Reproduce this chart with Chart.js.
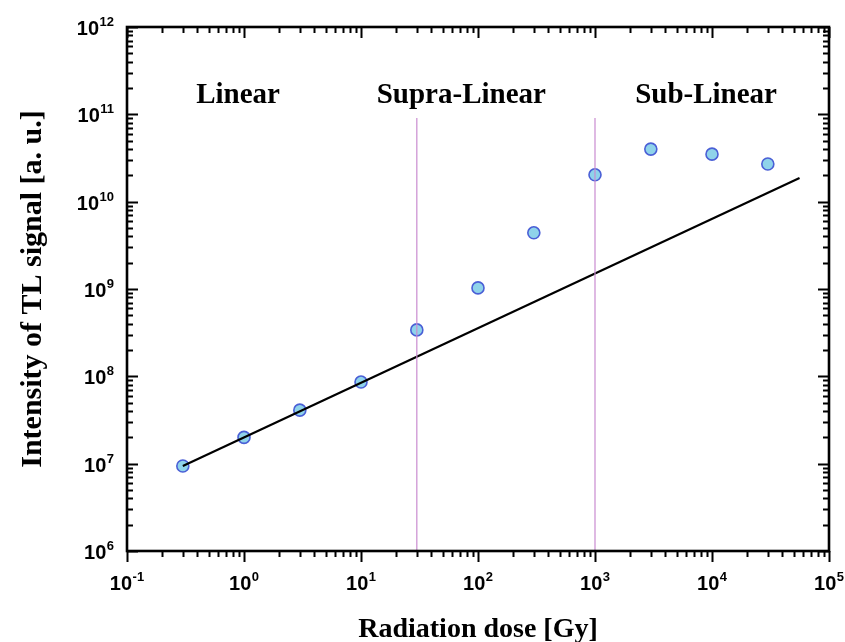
<!DOCTYPE html>
<html lang="en">
<head>
    <meta charset="UTF-8">
    <title>TL signal vs radiation dose</title>
    <script src="https://cdn.jsdelivr.net/npm/chart.js"></script>
    <style>
        html, body { margin: 0; padding: 0; background: #fff; }
        #wrap { width: 845px; height: 642px; }
    </style>
</head>
<body>
<div id="wrap"><canvas id="tlChart" width="845" height="642"></canvas></div>

<script>
    // Dados
    const doses = [0.3, 1, 3, 10, 30, 100, 300, 1000, 3000, 10000, 30000];
    const signal = [9.4e6, 2.0e7, 4.1e7, 8.6e7, 3.4e8, 1.03e9, 4.4e9, 2.03e10, 4.0e10, 3.5e10, 2.7e10];

    // Reta de referencia (resposta linear)
    const fitX = [0.3, 5.6e4];
    const fitY = [9.4e6, 1.87e10];

    // Limites das regioes
    const boundaries = [30, 1000];
    const boundaryBottom = 1e6;
    const boundaryTop = 9.1e10;

    const regionNames = ['Linear', 'Supra-Linear', 'Sub-Linear'];
    const regionCenters = [0.89, 72, 8900];

    // Expoentes dos rotulos dos eixos
    const xExps = [-1, 0, 1, 2, 3, 4, 5];
    const yExps = [6, 7, 8, 9, 10, 11, 12];

    const serif = '"Liberation Serif", "Times New Roman", serif';
    const sans = '"Liberation Sans", Arial, sans-serif';

    const datasets = [];
    boundaries.forEach(b => {
        datasets.push({
            data: [{ x: b, y: boundaryBottom }, { x: b, y: boundaryTop }],
            showLine: true,
            borderColor: '#c98bd0',
            borderWidth: 1.2,
            pointRadius: 0
        });
    });
    datasets.push({
        data: fitX.map((x, i) => ({ x: x, y: fitY[i] })),
        showLine: true,
        borderColor: '#000',
        borderWidth: 2.2,
        pointRadius: 0
    });
    datasets.push({
        data: doses.map((d, i) => ({ x: d, y: signal[i] })),
        showLine: false,
        pointRadius: 6,
        pointBackgroundColor: '#8fd3ea',
        pointBorderColor: '#4a5fd6',
        pointBorderWidth: 1.6
    });

    // desenha "10" com expoente a partir de (x0, base)
    function potencia(c, e, x0, base) {
        c.font = 'bold 20px ' + sans;
        const w1 = c.measureText('10').width;
        c.fillText('10', x0, base);
        c.font = 'bold 13px ' + sans;
        c.fillText(String(e), x0 + w1 + 0.5, base - 9);
    }
    function largura(c, e) {
        c.font = 'bold 20px ' + sans;
        const w1 = c.measureText('10').width;
        c.font = 'bold 13px ' + sans;
        return w1 + 0.5 + c.measureText(String(e)).width;
    }

    // Moldura, ticks e textos
    const framePlugin = {
        id: 'frame',
        afterDraw(chart) {
            const c = chart.ctx;
            const xs = chart.scales.x;
            const ys = chart.scales.y;
            const a = chart.chartArea;
            c.save();
            c.strokeStyle = '#000';
            c.fillStyle = '#000';

            // ticks
            c.lineWidth = 2;
            c.beginPath();
            for (let e = -1; e <= 5; e++) {
                for (let m = 1; m <= 9; m++) {
                    const v = m * Math.pow(10, e);
                    if (v > 1e5) break;
                    const px = Math.round(xs.getPixelForValue(v)) + 0.5;
                    const len = m === 1 ? 11 : 6;
                    c.moveTo(px, a.bottom); c.lineTo(px, a.bottom + len);
                    c.moveTo(px, a.top); c.lineTo(px, a.top + len);
                }
            }
            for (let e = 6; e <= 12; e++) {
                for (let m = 1; m <= 9; m++) {
                    const v = m * Math.pow(10, e);
                    if (v > 1e12) break;
                    const py = Math.round(ys.getPixelForValue(v)) + 0.5;
                    const len = m === 1 ? 11 : 6;
                    c.moveTo(a.left, py); c.lineTo(a.left + len, py);
                    c.moveTo(a.right, py); c.lineTo(a.right - len, py);
                }
            }
            c.stroke();

            // moldura
            c.lineWidth = 2.6;
            c.strokeRect(a.left, a.top, a.right - a.left, a.bottom - a.top);

            c.textAlign = 'left';
            c.textBaseline = 'alphabetic';

            // rotulos eixo x
            xExps.forEach(e => {
                const px = xs.getPixelForValue(Math.pow(10, e));
                potencia(c, e, px - largura(c, e) / 2, a.bottom + 39);
            });

            // rotulos eixo y
            yExps.forEach(e => {
                const py = ys.getPixelForValue(Math.pow(10, e));
                potencia(c, e, a.left - 13 - largura(c, e), py + 8);
            });

            // nomes das regioes
            c.font = 'bold 29px ' + serif;
            c.textAlign = 'center';
            regionNames.forEach((n, i) => {
                c.fillText(n, xs.getPixelForValue(regionCenters[i]), a.top + 76);
            });

            // titulos dos eixos
            c.font = 'bold 28px ' + serif;
            c.fillText('Radiation dose [Gy]', (a.left + a.right) / 2, 637);
            c.font = 'bold 30px ' + serif;
            c.translate(41, (a.top + a.bottom) / 2);
            c.rotate(-Math.PI / 2);
            c.fillText('Intensity of TL signal [a. u.]', 0, 0);
            c.restore();
        }
    };

    new Chart(document.getElementById('tlChart'), {
        type: 'scatter',
        data: { datasets: datasets },
        options: {
            responsive: false,
            animation: false,
            layout: { padding: { left: 127, right: 16, top: 27, bottom: 91 } },
            scales: {
                x: { type: 'logarithmic', min: 0.1, max: 1e5, display: false },
                y: { type: 'logarithmic', min: 1e6, max: 1e12, display: false }
            },
            plugins: {
                legend: { display: false },
                tooltip: { enabled: false }
            }
        },
        plugins: [framePlugin]
    });
</script>
</body>
</html>
